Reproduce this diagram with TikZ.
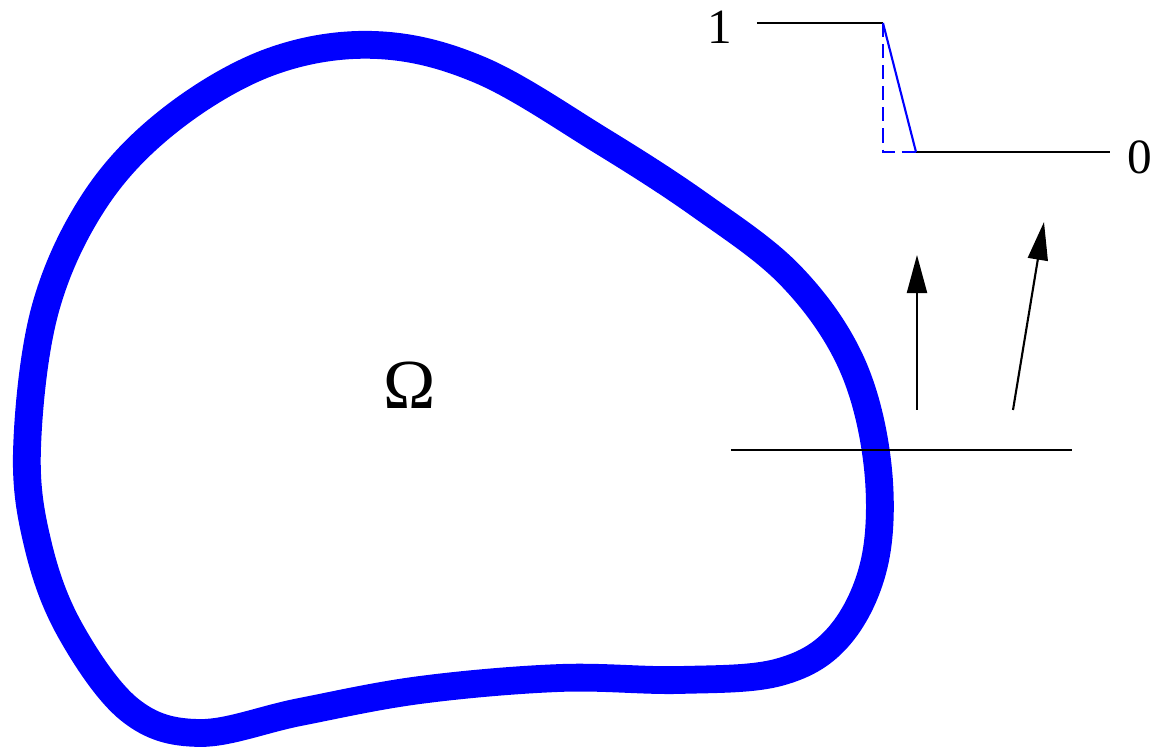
\documentclass[tikz,border=0pt]{standalone}
\usepackage{fontspec}
\setmainfont{Liberation Serif}
\usetikzlibrary{arrows.meta}
\begin{document}
\begin{tikzpicture}[x=0.01cm, y=-0.01cm,
    rand/.style={blue, line width=7.9pt},
    thin line/.style={black, line width=0.6pt},
    profil/.style={blue, line width=0.6pt},
    pfeil/.style={thin line, -{Triangle[length=3.8mm, width=2mm]}},
    label/.style={inner sep=1pt, font=\fontsize{14}{16}\selectfont}]
    \useasboundingbox (0,0) rectangle (1153,749);
    % Gebiet Omega
    \draw[rand] plot[smooth cycle, tension=0.6] coordinates {
        (27,450) (45,310) (95,200) (170,120) (270,62) (375,45) (480,70)
        (600,140) (700,205) (790,275) (850,360) (877,460) (875,560)
        (840,635) (780,672) (680,680) (560,678) (420,690) (300,712)
        (200,733) (130,710) (70,630) (38,545)};
    \node[label, font=\fontsize{20}{22}\selectfont] (omega) at (410,385) {Ω};
    % Profil oben rechts
    \coordinate (a) at (757,23);
    \coordinate (b) at (883,23);
    \coordinate (c) at (883,152);
    \coordinate (d) at (916,152);
    \coordinate (e) at (1110,152);
    \draw[thin line] (a) -- (b);
    \draw[thin line] (d) -- (e);
    \draw[profil] (b) -- (d);
    \draw[profil, dash pattern=on 4pt off 2pt] (b) -- (c) -- (d);
    \node[label] (eins) at (720,27) {1};
    \node[label] (null) at (1140,157) {0};
    % Schnittlinie und Pfeile
    \coordinate (s1) at (731,450);
    \coordinate (s2) at (1072,450);
    \draw[thin line] (s1) -- (s2);
    \coordinate (f1) at (917,410);
    \coordinate (g1) at (917,255);
    \coordinate (f2) at (1013,410);
    \coordinate (g2) at (1044,222);
    \draw[pfeil] (f1) -- (g1);
    \draw[pfeil] (f2) -- (g2);
\end{tikzpicture}
\end{document}
